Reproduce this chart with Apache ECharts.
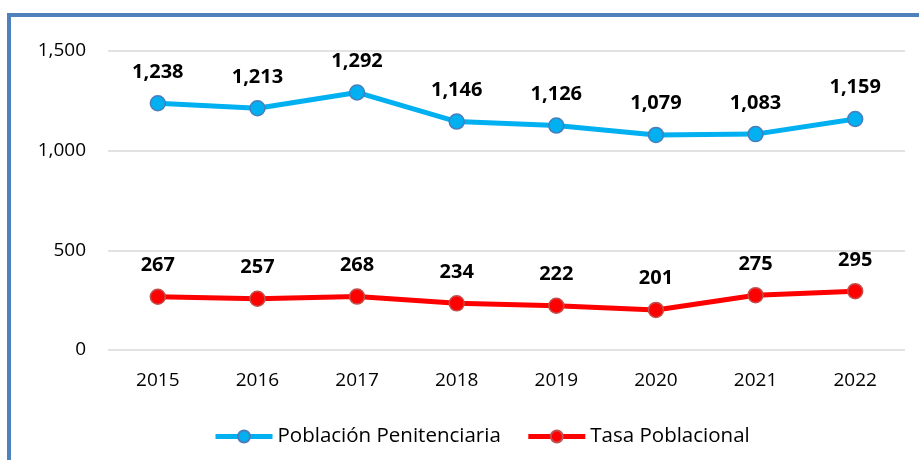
<!DOCTYPE html>
<html>
<head>
<meta charset="utf-8">
<script src="https://cdn.jsdelivr.net/npm/echarts@6/dist/echarts.min.js"></script>
<style>
  html, body { margin: 0; padding: 0; background: #fff; }
  #frame { position: absolute; left: 7px; top: 13px; width: 940px; height: 480px; border: 4px solid #4F81BD; box-sizing: border-box; }
  #chart { position: absolute; left: 0; top: 0; width: 919px; height: 460px; }
</style>
</head>
<body>
<div id="frame"></div>
<div id="chart"></div>
<script>
// datos
const years = ['2015', '2016', '2017', '2018', '2019', '2020', '2021', '2022']
const poblacion = [1238, 1213, 1292, 1146, 1126, 1079, 1083, 1159]
const tasa = [267, 257, 268, 234, 222, 201, 275, 295]
const yTicks = [0, 500, 1000, 1500]

const fontName = 'Open Sans, Noto Sans, sans-serif'
const fmt = (v) => v.toLocaleString('en-US')

function lineSerie(name, data, color, border) {
  return {
    name: name,
    type: 'line',
    data: data,
    symbol: 'circle',
    symbolSize: 15,
    itemStyle: { color: color, borderColor: border, borderWidth: 1.5 },
    lineStyle: { color: color, width: 5 },
    label: {
      show: true,
      position: 'top',
      distance: 13,
      fontFamily: fontName,
      fontWeight: 'bold',
      fontSize: 20,
      color: '#000',
      formatter: (p) => fmt(p.value)
    }
  }
}

const myChart = echarts.init(document.getElementById('chart'))
myChart.setOption({
  animation: false,
  grid: { left: 108, right: 14, top: 51, bottom: 110 },
  legend: {
    bottom: 8,
    left: 208,
    itemWidth: 57,
    itemHeight: 15,
    itemGap: 25,
    lineStyle: { width: 5 },
    textStyle: { fontFamily: fontName, fontSize: 20.5, color: '#000' },
    data: ['Población Penitenciaria', 'Tasa Poblacional']
  },
  xAxis: {
    type: 'category',
    data: years,
    boundaryGap: true,
    axisLine: { show: false },
    axisTick: { show: false },
    axisLabel: { fontFamily: fontName, fontSize: 19, color: '#000', margin: 21 }
  },
  yAxis: {
    type: 'value',
    min: yTicks[0],
    max: yTicks[yTicks.length - 1],
    interval: 500,
    axisLine: { show: false },
    axisTick: { show: false },
    splitLine: { lineStyle: { color: '#d9d9d9', width: 1.5 } },
    axisLabel: { fontFamily: fontName, fontSize: 19, color: '#000', margin: 22, formatter: (v) => fmt(v) }
  },
  series: [
    lineSerie('Población Penitenciaria', poblacion, '#00B0F0', '#4A7EBB'),
    lineSerie('Tasa Poblacional', tasa, '#FF0000', '#C0504D')
  ]
})
</script>
</body>
</html>
